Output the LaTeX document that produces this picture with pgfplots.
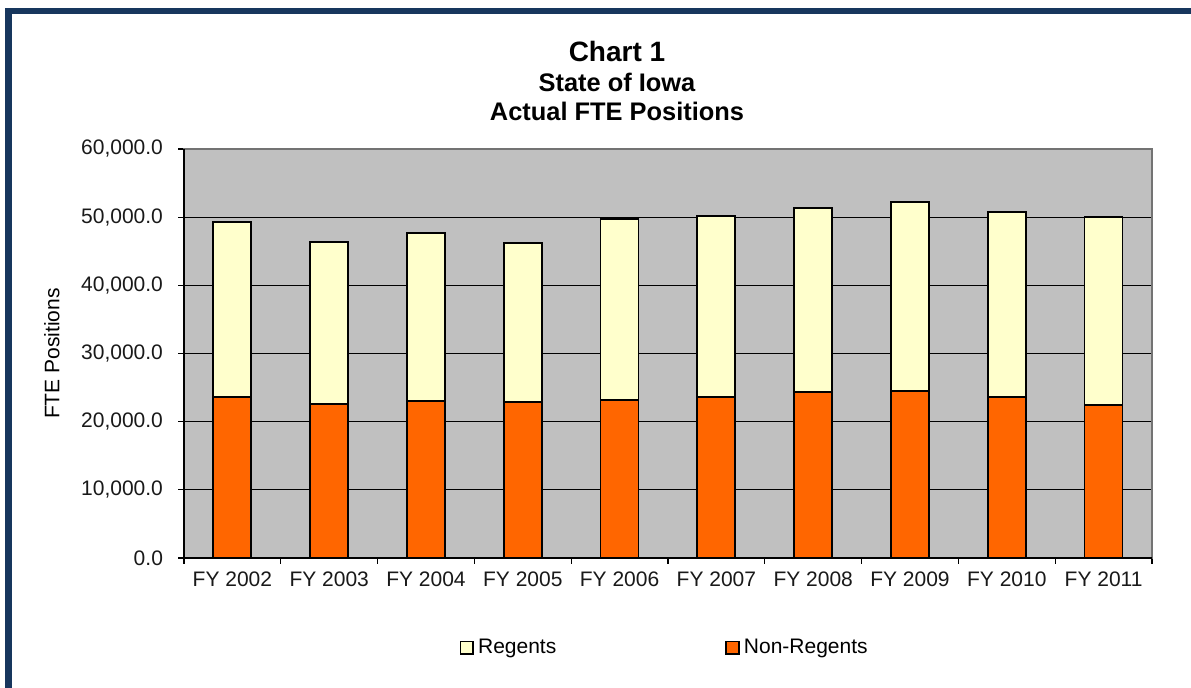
\documentclass[border=0pt]{standalone}
\usepackage{pgfplots}
\pgfplotsset{compat=1.18}
\usepackage{pgfplotstable}
\usepackage{fontspec}
\setmainfont{Liberation Sans}
\definecolor{framenavy}{RGB}{23,54,93}
\definecolor{regents}{RGB}{255,255,204}
\definecolor{nonregents}{RGB}{255,102,0}
\definecolor{plotbg}{RGB}{192,192,192}
\pgfplotstableread{
x nonreg reg
0 23570 25760
1 22640 23710
2 23030 24600
3 22840 23320
4 23220 26460
5 23570 26650
6 24310 26990
7 24500 27720
8 23570 27190
9 22490 27530
}\fte
\begin{document}
\begin{tikzpicture}
\useasboundingbox (0,0) rectangle (595.5pt,-344pt);
\fill[white] (0,0) rectangle (595.5pt,-344pt);
\fill[framenavy] (2.5pt,-4pt) rectangle (595.5pt,-7pt);
\fill[framenavy] (2.5pt,-4pt) rectangle (6pt,-344pt);
\node[anchor=base,font=\bfseries\fontsize{14pt}{16pt}\selectfont] at (308.5pt,-31pt) {Chart 1};
\node[anchor=base,font=\bfseries\fontsize{12.7pt}{15pt}\selectfont] at (308.5pt,-46pt) {State of Iowa};
\node[anchor=base,font=\bfseries\fontsize{12.7pt}{15pt}\selectfont] at (308.5pt,-60.5pt) {Actual FTE Positions};
\begin{axis}[
  at={(92pt,-279pt)}, anchor=south west,
  width=484pt, height=204.5pt, scale only axis,
  ybar stacked, bar width=19pt,
  xmin=-0.5, xmax=9.5, ymin=0, ymax=60000,
  xtick={0,...,9},
  xticklabels={FY 2002,FY 2003,FY 2004,FY 2005,FY 2006,FY 2007,FY 2008,FY 2009,FY 2010,FY 2011},
  minor xtick={-0.5,0.5,...,9.5},
  major x tick style={draw=none},
  minor x tick style={black, line width=0.6pt},
  ytick={0,10000,...,60000},
  y tick style={black, line width=0.6pt},
  tick align=outside, xtick pos=bottom, ytick pos=left,
  major tick length=3pt, minor tick length=3pt,
  ymajorgrids, grid style={black, line width=0.6pt},
  axis background/.style={fill=plotbg},
  axis line style={draw=gray!90!black, line width=0.8pt},
  scaled y ticks=false,
  yticklabel style={xshift=-4pt, /pgf/number format/.cd, fixed, fixed zerofill, precision=1, 1000 sep={,}, assume math mode=true},
  xticklabel style={yshift=-0.5pt},
  tick label style={font=\fontsize{10.5pt}{12pt}\selectfont, text=black!90},
  ylabel={FTE Positions},
  ylabel shift=4pt,
  ylabel style={font=\fontsize{10.5pt}{12pt}\selectfont},
  legend style={at={(0.278,-0.22)}, anchor=west, draw=none, fill=none,
    font=\fontsize{10.5pt}{12pt}\selectfont, legend columns=2,
    /tikz/every even column/.append style={column sep=82.5pt}},
  legend image code/.code={\draw[#1, line width=0.9pt] (0pt,-3.2pt) rectangle (6.4pt,3.2pt);},
  reverse legend,
  clip=false,
]
\addplot[fill=nonregents, draw=black, line width=0.9pt] table[x=x,y=nonreg] {\fte};
\addplot[fill=regents, draw=black, line width=0.9pt] table[x=x,y=reg] {\fte};
\legend{Non-Regents,Regents}
\draw[black, line width=0.8pt] (rel axis cs:0,1) -- (rel axis cs:0,0) -- (rel axis cs:1,0);
\end{axis}
\end{tikzpicture}
\end{document}
